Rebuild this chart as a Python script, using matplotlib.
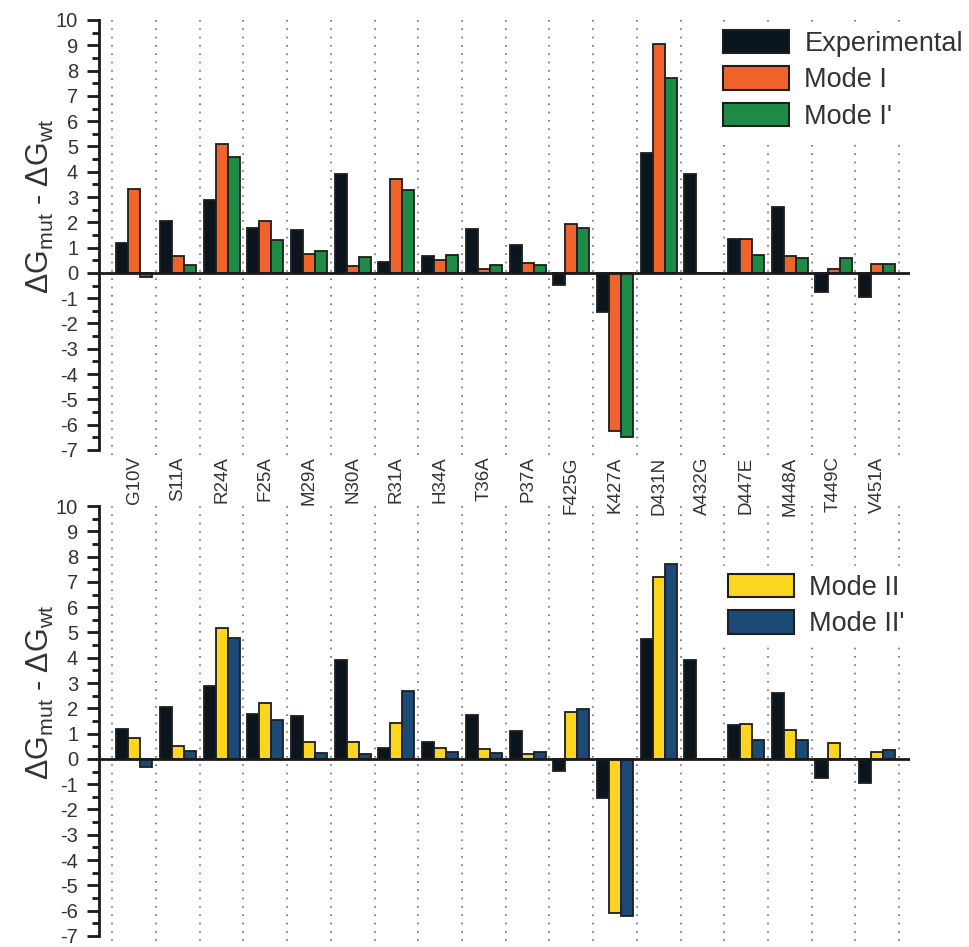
import numpy as np
import matplotlib
matplotlib.use("Agg")
import matplotlib.pyplot as plt
import matplotlib.ticker as ticker
from matplotlib.patches import Patch

plt.rcParams['font.family'] = ['Liberation Sans', 'DejaVu Sans']
plt.rcParams['mathtext.fontset'] = 'custom'
plt.rcParams['mathtext.rm'] = 'Liberation Sans'
plt.rcParams['axes.unicode_minus'] = False

mutants = ['G10V', 'S11A', 'R24A', 'F25A', 'M29A', 'N30A', 'R31A', 'H34A', 'T36A',
           'P37A', 'F425G', 'K427A', 'D431N', 'A432G', 'D447E', 'M448A', 'T449C', 'V451A']
experimental = [1.2, 2.05, 2.9, 1.78, 1.7, 3.9, 0.45, 0.68, 1.74, 1.1, -0.46,
                -1.56, 4.75, 3.9, 1.34, 2.6, -0.77, -0.97]
mode_1 = [3.32, 0.67, 5.1, 2.05, 0.75, 0.28, 3.7, 0.53, 0.15, 0.4, 1.95,
          -6.25, 9.05, 0.0, 1.35, 0.68, 0.17, 0.36]
mode_1p = [-0.15, 0.32, 4.6, 1.3, 0.87, 0.62, 3.28, 0.7, 0.32, 0.3, 1.77,
           -6.5, 7.7, 0.0, 0.7, 0.6, 0.58, 0.35]
mode_2 = [0.83, 0.5, 5.18, 2.22, 0.66, 0.66, 1.43, 0.43, 0.38, 0.18, 1.86,
          -6.08, 7.2, 0.0, 1.4, 1.13, 0.63, 0.28]
mode_2p = [-0.33, 0.32, 4.77, 1.53, 0.24, 0.19, 2.69, 0.28, 0.25, 0.29, 1.99,
           -6.2, 7.72, 0.0, 0.76, 0.76, 0.0, 0.34]

c_exp = '#0b151d'
c_m1 = '#f0642c'
c_m1p = '#1d8a46'
c_m2 = '#fcd51e'
c_m2p = '#1b4a77'
edge = '#1e1e1e'

W, H = 969, 947
fig = plt.figure(figsize=(W / 100, H / 100), dpi=100)

x = np.arange(len(mutants))
bw = 0.275
ylabel = r'ΔG$_{\mathregular{mut}}$ - ΔG$_{\mathregular{wt}}$'


def panel(bottom_px, series, names, colors, legend_xy, show_labels):
    ax = fig.add_axes([99 / W, 1 - bottom_px / H, 811 / W, 435 / H])
    ax.patch.set_visible(False)
    ax.set_xlim(-0.805, 17.75)
    ax.set_ylim(-7.2, 10)
    for k in range(len(mutants) + 1):
        ax.axvline(k - 0.5, color='#707070', lw=1.2, ls=(0, (1, 4)), zorder=0)
    for i, (vals, col) in enumerate(zip(series, colors)):
        ax.bar(x + (i - 1) * bw, vals, width=bw, color=col, edgecolor=edge,
               linewidth=1.3, zorder=2)
    ax.axhline(0, color='#1a1a1a', lw=2, zorder=3)

    for s in ['top', 'right', 'bottom']:
        ax.spines[s].set_visible(False)
    ax.spines['left'].set_linewidth(2)
    ax.spines['left'].set_color('#1a1a1a')
    ax.spines['left'].set_bounds(-7, 10)
    ax.yaxis.set_major_locator(ticker.FixedLocator(range(-7, 11)))
    ax.yaxis.set_minor_locator(ticker.FixedLocator(np.arange(-6.5, 10, 1)))
    ax.tick_params(axis='y', which='major', direction='out', length=9, width=2,
                   labelsize=14.5, pad=6, colors='#1a1a1a', labelcolor='#333333')
    ax.tick_params(axis='y', which='minor', direction='out', length=5, width=2,
                   colors='#1a1a1a')
    ax.set_xticks(x)
    if show_labels:
        ax.set_xticklabels(mutants, rotation=90, fontsize=13.5, color='#333333')
        ax.tick_params(axis='x', length=0, pad=1)
    else:
        ax.set_xticklabels([])
        ax.tick_params(axis='x', length=0)

    handles = [Patch(facecolor=c, edgecolor=edge, linewidth=1.5) for c in colors[len(colors) - len(names):]]
    leg = ax.legend(handles, names, loc='upper left',
                    bbox_to_anchor=(legend_xy[0] / W, 1 - legend_xy[1] / H),
                    bbox_transform=fig.transFigure, frameon=True, framealpha=1,
                    edgecolor='white', fancybox=False, borderpad=0.3, borderaxespad=0,
                    handlelength=2.45, handleheight=0.95, handletextpad=0.55,
                    labelspacing=0.34, fontsize=19.5)
    leg.set_zorder(5)
    for t in leg.get_texts():
        t.set_color('#333333')
    return ax


ax1 = panel(455, [experimental, mode_1, mode_1p], ['Experimental', 'Mode I', "Mode I'"],
            [c_exp, c_m1, c_m1p], (715, 22), True)
ax2 = panel(941, [experimental, mode_2, mode_2p], ['Mode II', "Mode II'"],
            [c_exp, c_m2, c_m2p], (720, 566), False)

fig.text(40 / W, 1 - 206 / H, ylabel, rotation=90, fontsize=22, color='#333333',
         ha='center', va='center')
fig.text(40 / W, 1 - 692 / H, ylabel, rotation=90, fontsize=22, color='#333333',
         ha='center', va='center')

fig.savefig('out.png', dpi=100)
